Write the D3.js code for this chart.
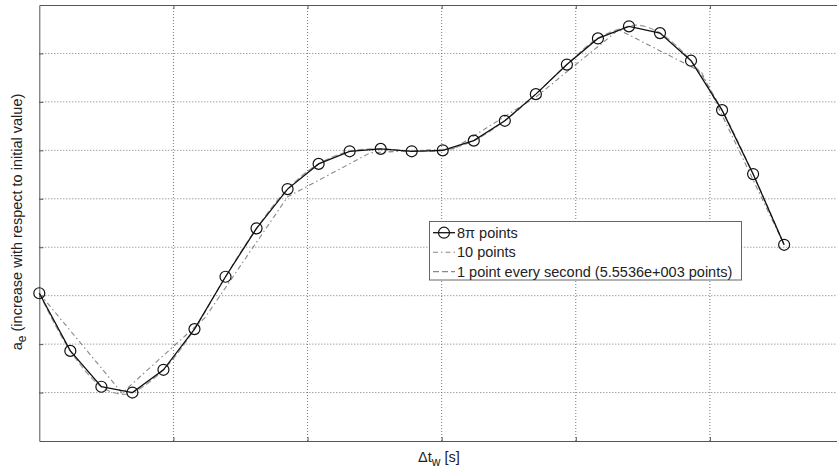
<!DOCTYPE html>
<html>
<head>
<meta charset="utf-8">
<script src="https://cdn.jsdelivr.net/npm/d3@7"></script>
<style>
  body { margin: 0; background: #fff; }
  text { font-family: "Liberation Sans", Arial, sans-serif; fill: #222; }
</style>
</head>
<body>
<script>
// time in seconds, a_e in grid units (no tick labels in the original)
var tEnd = 5553.6;
var pi8Values = [3.05, 1.86, 1.12, 1.00, 1.47, 2.31, 3.39, 4.39, 5.20, 5.72, 5.98, 6.03, 5.98,
  6.00, 6.20, 6.61, 7.16, 7.77, 8.31, 8.56, 8.42, 7.85, 6.83, 5.51, 4.05];
var tenValues = [3.05, 0.99, 2.54, 5.04, 5.95, 6.03, 7.10, 8.49, 7.62, 4.05];
// dense reference curve
var denseT = [0, 231, 463, 601, 694, 926, 1157, 1388, 1620, 1851, 2082, 2314, 2545, 2776, 3008,
  3239, 3470, 3702, 3933, 4164, 4392, 4476, 4628, 4859, 5090, 5322, 5554];
var denseValues = [3.05, 1.86, 1.12, 0.97, 1.00, 1.47, 2.31, 3.39, 4.39, 5.20, 5.72, 5.98, 6.03,
  5.99, 6.00, 6.20, 6.61, 7.16, 7.77, 8.31, 8.56, 8.58, 8.42, 7.85, 6.83, 5.51, 4.05];
var legendLabels = ["8\u03c0 points", "10 points", "1 point every second (5.5536e+003 points)"];

var width = 837, height = 470;
var mLeft = 39.3, mTop = 5, mRight = 844, mBottom = 441;

var svg = d3.select("body").append("svg").attr("width", width).attr("height", height);

var x = d3.scaleLinear().domain([0, 6000]).range([mLeft, mRight]);
var y = d3.scaleLinear().domain([0, 9]).range([mBottom, mTop]);

// grid
var grid = svg.append("g");
grid.selectAll(".gx").data(d3.range(1000, 6000, 1000)).enter().append("line")
  .attr("x1", d => x(d)).attr("x2", d => x(d)).attr("y1", mTop).attr("y2", mBottom)
  .attr("stroke", "#777").attr("stroke-width", 1).attr("stroke-dasharray", "1,2");
grid.selectAll(".gy").data(d3.range(1, 9)).enter().append("line")
  .attr("x1", mLeft).attr("x2", mRight).attr("y1", d => y(d)).attr("y2", d => y(d))
  .attr("stroke", "#777").attr("stroke-width", 1).attr("stroke-dasharray", "1,2");

// axes box (no labels)
svg.append("g").attr("transform", "translate(0," + mBottom + ")")
  .call(d3.axisBottom(x).tickValues(d3.range(1000, 6000, 1000)).tickSize(-4).tickSizeOuter(0).tickFormat(""))
  .call(g => g.selectAll("line, path").attr("stroke", "#555"));
svg.append("g").attr("transform", "translate(0," + mTop + ")")
  .call(d3.axisTop(x).tickValues(d3.range(1000, 6000, 1000)).tickSize(-4).tickSizeOuter(0).tickFormat(""))
  .call(g => g.selectAll("line, path").attr("stroke", "#555"));
svg.append("g").attr("transform", "translate(" + mLeft + ",0)")
  .call(d3.axisLeft(y).tickValues(d3.range(1, 9)).tickSize(-4).tickSizeOuter(0).tickFormat(""))
  .call(g => g.selectAll("line, path").attr("stroke", "#555"));

// dense curve (dashed gray)
var dense = denseT.map((t, i) => [t, denseValues[i]]);
svg.append("path").datum(dense)
  .attr("d", d3.line().x(d => x(d[0])).y(d => y(d[1])).curve(d3.curveCatmullRom))
  .attr("fill", "none").attr("stroke", "#999").attr("stroke-width", 1.2)
  .attr("stroke-dasharray", "6,3");

// 10 points (dash-dot)
var ten = tenValues.map((v, i) => [i * tEnd / (tenValues.length - 1), v]);
svg.append("path").datum(ten)
  .attr("d", d3.line().x(d => x(d[0])).y(d => y(d[1])))
  .attr("fill", "none").attr("stroke", "#888").attr("stroke-width", 1.1)
  .attr("stroke-dasharray", "5,3,1.5,3");

// 8pi points
var pi8 = pi8Values.map((v, i) => [i * tEnd / (pi8Values.length - 1), v]);
svg.append("path").datum(pi8)
  .attr("d", d3.line().x(d => x(d[0])).y(d => y(d[1])))
  .attr("fill", "none").attr("stroke", "#111").attr("stroke-width", 1.3);
svg.selectAll(".pt").data(pi8).enter().append("circle")
  .attr("cx", d => x(d[0])).attr("cy", d => y(d[1])).attr("r", 5.5)
  .attr("fill", "none").attr("stroke", "#111").attr("stroke-width", 1.2);

// legend
var lg = svg.append("g");
lg.append("rect").attr("x", 429.5).attr("y", 221.5).attr("width", 312).attr("height", 58.5)
  .attr("fill", "#fff").attr("stroke", "#666").attr("stroke-width", 1);
var rows = [232.7, 252.3, 271.7];
var styles = [
  { stroke: "#111", dash: null, width: 1.3 },
  { stroke: "#888", dash: "5,3,1.5,3", width: 1.1 },
  { stroke: "#888", dash: "6,3", width: 1.2 }
];
legendLabels.forEach(function(label, i) {
  lg.append("line").attr("x1", 433).attr("x2", 455).attr("y1", rows[i]).attr("y2", rows[i])
    .attr("stroke", styles[i].stroke).attr("stroke-width", styles[i].width)
    .attr("stroke-dasharray", styles[i].dash);
  if (i === 0) {
    lg.append("circle").attr("cx", 444).attr("cy", rows[i]).attr("r", 5.5)
      .attr("fill", "none").attr("stroke", "#111").attr("stroke-width", 1.2);
  }
  lg.append("text").attr("x", 457).attr("y", rows[i] + 5).attr("font-size", 14.5).text(label);
});

// axis titles
var xt = svg.append("text").attr("x", 418).attr("y", 462).attr("font-size", 14.5);
xt.append("tspan").text("\u0394t");
xt.append("tspan").attr("dy", 4).attr("font-size", 12).text("w");
xt.append("tspan").attr("dy", -4).text(" [s]");

var yt = svg.append("text").attr("transform", "translate(22,222) rotate(-90)")
  .attr("text-anchor", "middle").attr("font-size", 14.5);
yt.append("tspan").text("a");
yt.append("tspan").attr("dy", 4).attr("font-size", 12).text("e");
yt.append("tspan").attr("dy", -4).text(" (increase with respect to initial value)");
</script>
</body>
</html>
